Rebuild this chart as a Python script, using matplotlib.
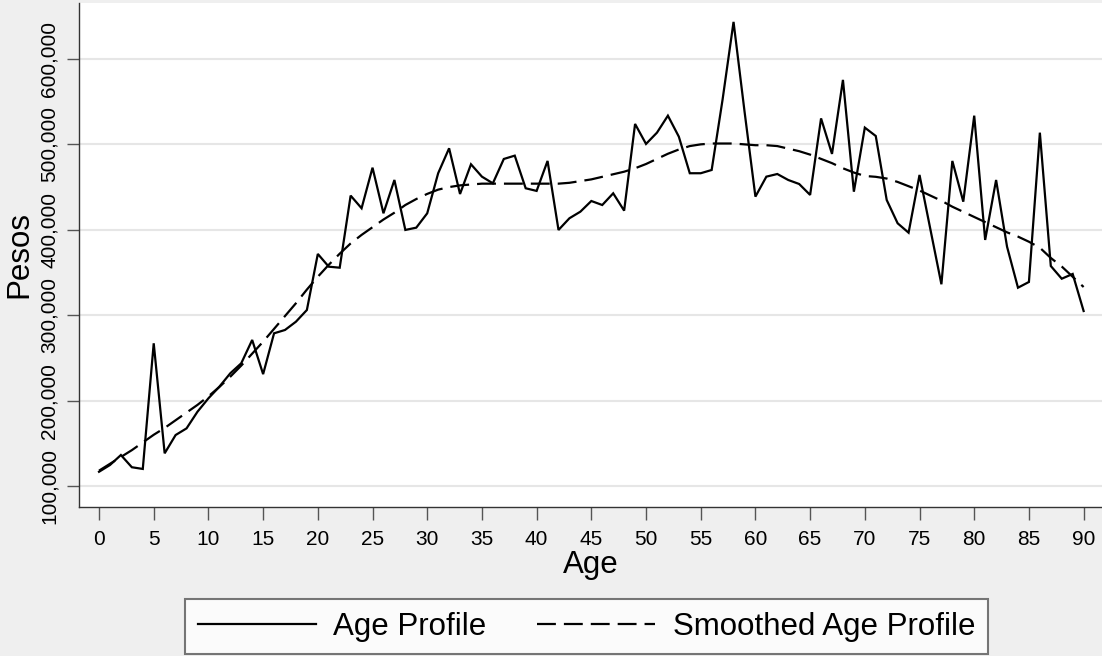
import matplotlib
matplotlib.use("Agg")
import matplotlib.pyplot as plt
from matplotlib.ticker import FuncFormatter

# --- data ---
ages = list(range(0, 91))

age_profile = [
    116700, 124600, 136300, 122000, 120000, 267100, 138300, 159700, 167500, 187000,
    202700, 216300, 232000, 243700, 271000, 231000, 278800, 282700, 292400, 306100,
    371700, 356800, 355600, 440000, 425200, 472700, 419300, 458300, 399800, 402500,
    419300, 466200, 495400, 441900, 476700, 462200, 454400, 482900, 486800, 448600,
    445500, 480600, 399800, 413500, 421200, 433700, 429000, 442700, 422400, 523900,
    500500, 513700, 533600, 509000, 466200, 466200, 470000, 552600, 643400, 539000,
    438800, 462200, 465300, 458300, 453600, 440800, 530400, 488800, 575500, 444600,
    519600, 509800, 434900, 407600, 396600, 464200, 400100, 336200, 480600, 432900,
    533600, 388100, 458300, 380200, 332200, 338900, 513700, 357600, 342700, 348300,
    304900,
]

smoothed = [
    118000, 126000, 134000, 142000, 151000, 160000, 168000, 177000, 186000, 195000,
    205000, 216000, 228000, 241000, 255000, 269000, 284000, 299000, 314000, 330000,
    345000, 359000, 372000, 384000, 394000, 403000, 412000, 420000, 429000, 436000,
    442000, 447000, 450000, 452000, 453000, 454000, 454000, 454000, 454000, 454000,
    454000, 454000, 454000, 455000, 457000, 459000, 462000, 465000, 468000, 472000,
    477000, 483000, 489000, 494000, 498000, 500000, 501000, 501000, 501000, 500000,
    499000, 499000, 498000, 495000, 492000, 488000, 483000, 478000, 472000, 467000,
    463000, 462000, 460000, 456000, 451000, 446000, 440000, 434000, 427000, 421000,
    415000, 409000, 403000, 397000, 392000, 386000, 379000, 367000, 357000, 345000,
    333000,
]

x_ticks = list(range(0, 91, 5))
y_ticks = [100000, 200000, 300000, 400000, 500000, 600000]

# --- figure setup ---
plt.rcParams['font.family'] = ['Liberation Sans', 'DejaVu Sans']
bg = '#efefef'
fig = plt.figure(figsize=(11.02, 6.56), dpi=100, facecolor=bg)
W, H = 1102.0, 656.0
ax = fig.add_axes([79 / W, (H - 506.7) / H, (1102 - 79) / W, (506.7 - 3) / H])
ax.set_facecolor('white')

ax.plot(ages, age_profile, color='black', lw=1.6, solid_joinstyle='miter',
        label='Age Profile')
ax.plot(ages, smoothed, color='black', lw=1.6, dashes=(8.5, 3.6),
        label='Smoothed Age Profile')

ax.set_xlim(-1.83, 91.68)
ax.set_ylim(75800, 665500)

ax.set_xticks(x_ticks)
ax.set_yticks(y_ticks)
ax.yaxis.set_major_formatter(FuncFormatter(lambda v, p: f"{int(v):,}"))
ax.grid(True, axis='y', color='#e6e6e6', lw=1.5)
ax.grid(False, axis='x')
ax.set_axisbelow(True)

for s in ['top', 'right']:
    ax.spines[s].set_visible(False)
for s in ['left', 'bottom']:
    ax.spines[s].set_color('#333333')
    ax.spines[s].set_linewidth(1.0)

ax.tick_params(axis='x', length=9.5, width=1.0, color='#555555', pad=7,
               labelsize=15)
ax.tick_params(axis='y', length=8.5, width=1.0, color='#555555', pad=6,
               labelsize=15)
for lbl in ax.get_yticklabels():
    lbl.set_rotation(90)
    lbl.set_va('center')

ax.set_xlabel('Age', fontsize=22.5, labelpad=1)
ax.set_ylabel('Pesos', fontsize=22.5, labelpad=4)

leg = fig.legend(loc='lower left', bbox_to_anchor=(185 / W, (H - 654) / H),
                 ncol=2, frameon=True, fancybox=False, fontsize=22.5,
                 handlelength=3.8, handletextpad=0.55, columnspacing=1.6,
                 borderpad=0.4, borderaxespad=0)
leg.get_frame().set_edgecolor('#555555')
leg.get_frame().set_linewidth(1.5)
leg.get_frame().set_facecolor('white')

fig.savefig('out.png', dpi=100, facecolor=bg)
